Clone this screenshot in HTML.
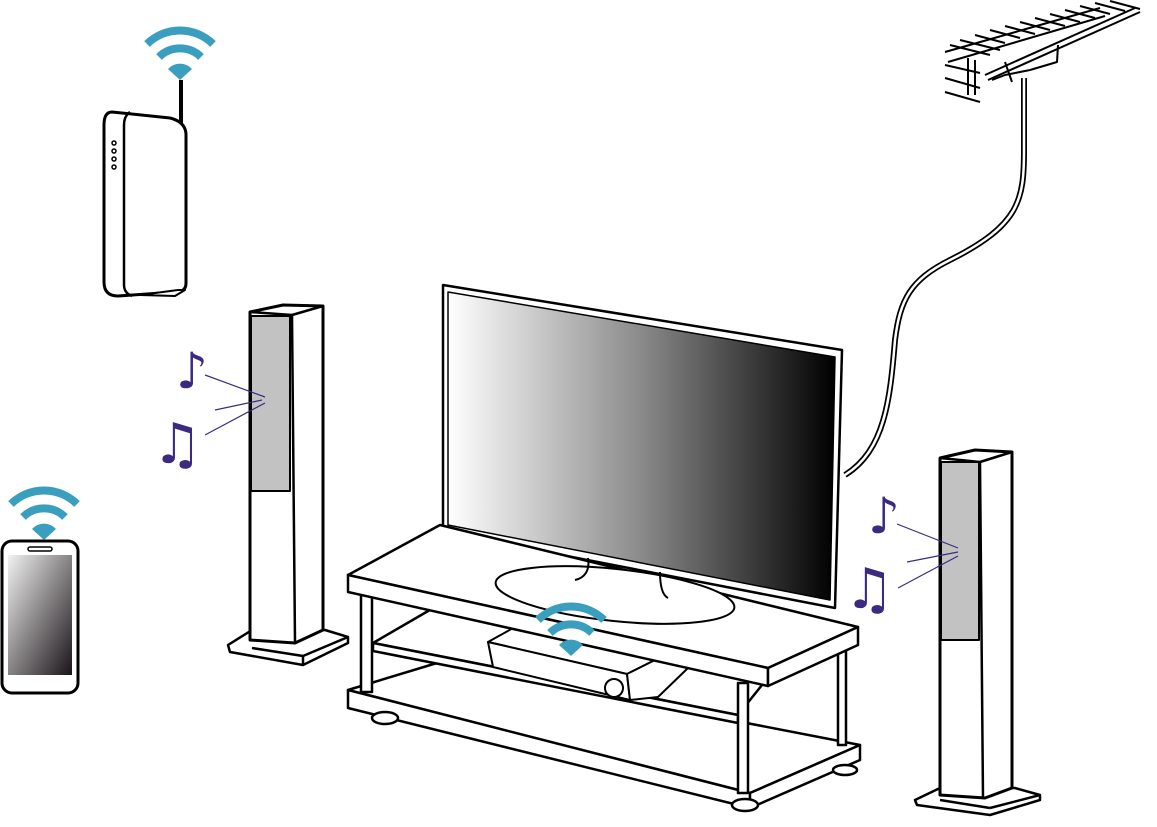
<!DOCTYPE html>
<html><head><meta charset="utf-8"><style>html,body{margin:0;padding:0;background:#fff}svg{display:block}</style></head>
<body>
<svg width="1157" height="827" viewBox="0 0 1157 827" xmlns="http://www.w3.org/2000/svg">
<defs>
<linearGradient id="tv" x1="0" x2="1" y1="0" y2="0"><stop offset="0" stop-color="#fff"/><stop offset="0.5" stop-color="#8a8a8a"/><stop offset="1" stop-color="#000"/></linearGradient>
<linearGradient id="ph" x1="0" y1="0" x2="1" y2="1"><stop offset="0" stop-color="#f2f2f2"/><stop offset="1" stop-color="#1a1418"/></linearGradient>
<g id="wifi">
<g fill="none" stroke="#3a9fbf" stroke-width="8">
<path d="M-33,-36 A47,47 0 0 1 33,-36"/><path d="M-21,-23 A30,30 0 0 1 21,-23"/>
</g>
<path d="M0,0 L-12,-11 A16,16 0 0 1 12,-11 Z" fill="#3a9fbf"/>
</g>
</defs>
<g stroke="#000" stroke-width="2.5" fill="#fff" stroke-linejoin="round">
<!-- antenna -->
<g stroke-width="2">
<path d="M945,52 L1100,8 M948,62 L1105,16" fill="none"/>
<line x1="985" y1="75" x2="1135" y2="8"/><line x1="988" y1="80" x2="1140" y2="12"/>
<path d="M950,45 l40,10 M960,40 l40,10 M975,35 l30,8 M990,30 l30,8 M1005,26 l30,8 M1020,22 l30,8 M1035,18 l30,8 M1050,14 l30,8 M1065,10 l30,8 M1080,6 l30,8 M1095,3 l30,8 M1110,1 l30,8 M945,65 l35,8 M945,78 l35,10 M945,92 l35,10" fill="none"/>
<path d="M968,58 L968,95 M975,60 L975,95 M992,80 L1005,75 L1030,70 L1057,62 L1058,45 M1005,62 L1012,82" fill="none"/>
</g>
<path d="M1024,78 L1024,150 C1024,200 1020,225 950,260 C910,280 900,300 895,340 C890,400 885,450 845,475" fill="none" stroke-width="6"/>
<path d="M1024,78 L1024,150 C1024,200 1020,225 950,260 C910,280 900,300 895,340 C890,400 885,450 845,475" fill="none" stroke="#fff" stroke-width="2.5"/>
<!-- TV -->
<polygon points="443,285 842,350 835,608 443,532"/>
<polygon points="448,292 835,357 830,600 448,525" fill="url(#tv)" stroke-width="1.5"/>
<!-- bottom board -->
<polygon points="348,690 437,663 860,745 750,793"/>
<polygon points="348,690 750,793 750,808 348,708"/>
<polygon points="750,793 860,745 860,760 750,808"/>
<!-- middle shelf -->
<polygon points="373,643 435,607 770,675 738,715"/>
<polygon points="373,643 738,715 738,723 373,651"/>
<!-- receiver -->
<polygon points="488,642 515,627 655,660 627,674" stroke-width="2"/>
<polygon points="488,642 627,674 630,700 493,667" stroke-width="2"/>
<polygon points="627,674 655,660 688,668 658,697 630,700" stroke-width="2"/>
<circle cx="614" cy="688" r="9" stroke-width="2"/>
<!-- legs -->
<rect x="361" y="592" width="11" height="100"/>
<rect x="738" y="683" width="10" height="110"/>
<rect x="838" y="645" width="8" height="100"/>
<ellipse cx="385" cy="718" rx="13" ry="6"/><ellipse cx="745" cy="805" rx="13" ry="6"/><ellipse cx="845" cy="770" rx="12" ry="5"/>
<!-- top -->
<polygon points="348,575 440,525 858,627 768,668"/>
<polygon points="348,575 768,668 768,686 348,592"/>
<polygon points="768,668 858,627 858,645 768,686"/>
<ellipse cx="615" cy="595" rx="120" ry="26" transform="rotate(6 615 595)" stroke-width="2"/>
<path d="M588,558 C590,570 585,578 575,580 M660,572 C660,585 662,595 668,598" fill="none" stroke-width="2"/>
<!-- router -->
<line x1="181" y1="80" x2="181" y2="125" stroke-width="4"/>
<path d="M112,112 L170,118 Q186,122 186,135 L186,283 Q186,292 176,292 L118,296 Q104,296 104,282 L104,125 Q104,112 112,112Z" stroke-width="3"/>
<path d="M130,112 Q124,116 124,125 L124,285 Q124,293 132,296" fill="none"/>
<path d="M140,295 L178,290 L185,290 L175,296Z" stroke-width="2"/>
<g fill="none" stroke-width="1.5"><circle cx="114" cy="143" r="2"/><circle cx="114" cy="151" r="2"/><circle cx="114" cy="159" r="2"/><circle cx="114" cy="167" r="2"/></g>
<!-- phone -->
<rect x="2" y="541" width="76" height="152" rx="10" stroke-width="3"/>
<rect x="8" y="555" width="64" height="120" fill="url(#ph)" stroke="none"/>
<rect x="28" y="547" width="24" height="4" rx="2" stroke-width="1.5"/>
<!-- left speaker -->
<polygon points="228,645 252,630 325,630 348,637 348,643 303,665 230,652"/>
<line x1="252" y1="648" x2="303" y2="656"/><line x1="303" y1="656" x2="348" y2="637"/><line x1="303" y1="656" x2="303" y2="665"/>
<polygon points="250,312 283,305 323,306 323,630 295,643 250,640" stroke-width="3"/>
<line x1="250" y1="312" x2="292" y2="315"/><line x1="292" y1="315" x2="323" y2="306"/><line x1="292" y1="315" x2="295" y2="643"/>
<rect x="251" y="316" width="39" height="175" fill="#c2c2c2" stroke-width="2"/>
<!-- right speaker -->
<polygon points="915,800 940,788 1015,788 1040,795 1040,800 990,815 917,805"/>
<line x1="940" y1="800" x2="990" y2="808"/><line x1="990" y1="808" x2="1040" y2="795"/>
<polygon points="940,458 975,450 1012,452 1012,788 985,798 940,795" stroke-width="3"/>
<line x1="940" y1="458" x2="980" y2="462"/><line x1="980" y1="462" x2="1012" y2="452"/><line x1="980" y1="462" x2="983" y2="798"/>
<rect x="941" y="462" width="38" height="178" fill="#c2c2c2" stroke-width="2"/>
</g>
<!-- wifi icons -->
<use href="#wifi" x="180" y="80"/>
<use href="#wifi" x="44" y="540"/>
<use href="#wifi" x="571" y="656"/>
<!-- music lines -->
<g stroke="#3b2a80" stroke-width="1.2">
<line x1="205" y1="375" x2="265" y2="397"/><line x1="215" y1="410" x2="262" y2="400"/><line x1="205" y1="435" x2="265" y2="403"/>
<line x1="897" y1="524" x2="958" y2="548"/><line x1="907" y1="562" x2="958" y2="552"/><line x1="898" y1="588" x2="958" y2="556"/>
</g>
<g fill="#3b2a80" font-family="DejaVu Sans, sans-serif" font-weight="bold">
<text x="176" y="388" font-size="50">♪</text>
<text x="152" y="463" font-size="56">♫</text>
<text x="868" y="533" font-size="50">♪</text>
<text x="844" y="608" font-size="56">♫</text>
</g>
</svg>
</body></html>
